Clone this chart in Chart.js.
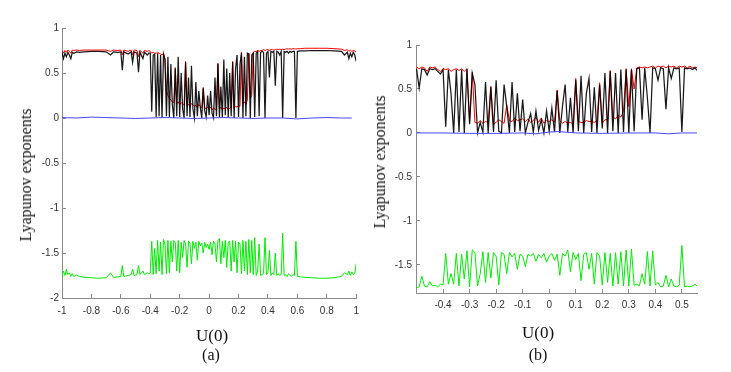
<!DOCTYPE html>
<html>
<head>
<meta charset="utf-8">
<script src="https://cdn.jsdelivr.net/npm/chart.js@4.4.0/dist/chart.umd.min.js"></script>
<style>
  body { margin: 0; background: #fff; width: 731px; height: 372px; position: relative; overflow: hidden; }
  canvas { position: absolute; top: 0; }
  .cap { position: absolute; font-family: 'Liberation Serif', 'Times New Roman', serif; color: #111;
         white-space: nowrap; line-height: 1; transform: translate(-50%, -50%); }
  .ylab { transform: translate(-50%, -50%) rotate(-90deg); }
</style>
</head>
<body>
<canvas id="chartA" width="370" height="372" style="left:0"></canvas>
<canvas id="chartB" width="361" height="372" style="left:370px"></canvas>

<div class="cap ylab" style="left:26px;top:175px;font-size:16px">Lyapunov exponents</div>
<div class="cap" style="left:212px;top:335px;font-size:17px">U(0)</div>
<div class="cap" style="left:211px;top:355px;font-size:16px">(a)</div>

<div class="cap ylab" style="left:380px;top:162px;font-size:16px">Lyapunov exponents</div>
<div class="cap" style="left:538px;top:332px;font-size:17px">U(0)</div>
<div class="cap" style="left:538px;top:355px;font-size:16px">(b)</div>

<script>
// ---------- panel (a) ----------
const uA = [
  -1, -0.99, -0.98, -0.97, -0.96, -0.95, -0.94, -0.93, -0.92, -0.9,
  -0.88, -0.85, -0.8, -0.75, -0.7, -0.67, -0.65, -0.62, -0.6, -0.59,
  -0.58, -0.55, -0.53, -0.52, -0.51, -0.49, -0.48, -0.47, -0.45, -0.44,
  -0.42, -0.41,
  -0.40, -0.39, -0.38, -0.37, -0.36, -0.35, -0.34, -0.33, -0.32, -0.31,
  -0.30, -0.29, -0.28, -0.27, -0.26, -0.25, -0.24, -0.23, -0.22, -0.21,
  -0.20, -0.19, -0.18, -0.17, -0.16, -0.15, -0.14, -0.13, -0.12, -0.11,
  -0.10, -0.09, -0.08, -0.07, -0.06, -0.05, -0.04, -0.03, -0.02, -0.01,
  0.00, 0.01, 0.02, 0.03, 0.04, 0.05, 0.06, 0.07, 0.08, 0.09,
  0.10, 0.11, 0.12, 0.13, 0.14, 0.15, 0.16, 0.17, 0.18, 0.19,
  0.20, 0.21, 0.22, 0.23, 0.24, 0.25, 0.26, 0.27, 0.28, 0.29,
  0.30, 0.31, 0.32, 0.33, 0.34, 0.35, 0.36, 0.37, 0.38, 0.39,
  0.40, 0.41, 0.42, 0.43, 0.44, 0.45, 0.46, 0.47, 0.48, 0.49,
  0.50, 0.51, 0.52, 0.53, 0.54, 0.55, 0.56, 0.57, 0.58, 0.59,
  0.60,
  0.62, 0.65, 0.7, 0.75, 0.8, 0.85, 0.9, 0.92, 0.94, 0.95,
  0.96, 0.97, 0.98, 0.99, 1
];
const blackA = [
  0.73, 0.66, 0.72, 0.68, 0.73, 0.70, 0.66, 0.73, 0.72, 0.735,
  0.73, 0.735, 0.74, 0.74, 0.735, 0.70, 0.735, 0.73, 0.735, 0.53,
  0.735, 0.71, 0.735, 0.62, 0.735, 0.72, 0.51, 0.73, 0.66, 0.73,
  0.70, 0.72,
  0.72, 0.07, 0.70, 0.71, 0.01, 0.72, 0.02, 0.70, 0.00, 0.71,
  0.65, 0.02, 0.68, 0.01, 0.60, 0.15, 0.00, 0.55, 0.02, 0.68,
  0.01, 0.50, 0.10, 0.00, 0.62, 0.02, 0.45, 0.01, 0.58, 0.10,
  0.00, 0.40, 0.02, 0.30, 0.12, 0.00, 0.33, 0.08, 0.01, 0.25,
  0.03, 0.30, 0.05, 0.00, 0.45, 0.02, 0.60, 0.01, 0.35, 0.00,
  0.65, 0.03, 0.55, 0.00, 0.50, 0.02, 0.62, 0.00, 0.55, 0.70,
  0.01, 0.60, 0.72, 0.00, 0.68, 0.02, 0.72, 0.71, 0.00, 0.70,
  0.72, 0.01, 0.72, 0.74, 0.02, 0.73, 0.74, 0.73, 0.00, 0.72,
  0.74, 0.45, 0.74, 0.73, 0.74, 0.36, 0.74, 0.73, 0.70, 0.74,
  0.00, 0.74, 0.73, 0.74, 0.72, 0.74, 0.73, 0.74, 0.74, 0.00,
  0.74,
  0.745, 0.745, 0.75, 0.75, 0.75, 0.745, 0.74, 0.70, 0.73, 0.66,
  0.72, 0.68, 0.73, 0.70, 0.63
];
const redA = [
  0.75, 0.72, 0.75, 0.73, 0.755, 0.74, 0.72, 0.755, 0.75, 0.755,
  0.75, 0.755, 0.755, 0.755, 0.755, 0.74, 0.755, 0.75, 0.755, 0.70,
  0.755, 0.74, 0.755, 0.70, 0.755, 0.75, 0.68, 0.75, 0.72, 0.75,
  0.74, 0.75,
  0.74, 0.72, 0.73, 0.72, 0.72, 0.73, 0.72, 0.71, 0.70, 0.72,
  0.66, 0.30, 0.25, 0.22, 0.20, 0.18, 0.17, 0.56, 0.16, 0.18,
  0.15, 0.17, 0.16, 0.14, 0.63, 0.14, 0.15, 0.13, 0.16, 0.15,
  0.13, 0.14, 0.12, 0.15, 0.13, 0.11, 0.34, 0.12, 0.10, 0.12,
  0.10, 0.12, 0.09, 0.11, 0.10, 0.09, 0.61, 0.10, 0.12, 0.09,
  0.11, 0.10, 0.12, 0.09, 0.11, 0.12, 0.63, 0.11, 0.13, 0.12,
  0.14, 0.13, 0.73, 0.16, 0.18, 0.15, 0.20, 0.72, 0.22, 0.25,
  0.73, 0.74, 0.74, 0.75, 0.74, 0.75, 0.75, 0.76, 0.75, 0.76,
  0.76, 0.75, 0.76, 0.76, 0.755, 0.76, 0.765, 0.76, 0.765, 0.76,
  0.765, 0.76, 0.765, 0.77, 0.765, 0.77, 0.765, 0.77, 0.77, 0.765,
  0.77,
  0.77, 0.775, 0.775, 0.775, 0.775, 0.77, 0.765, 0.75, 0.76, 0.74,
  0.755, 0.74, 0.75, 0.745, 0.73
];
const greenA = [
  -1.76, -1.70, -1.75, -1.68, -1.74, -1.72, -1.76, -1.73, -1.76, -1.745,
  -1.76, -1.77, -1.775, -1.78, -1.775, -1.72, -1.77, -1.765, -1.76, -1.64,
  -1.76, -1.75, -1.74, -1.68, -1.75, -1.74, -1.64, -1.74, -1.70, -1.74,
  -1.72, -1.73,
  -1.72, -1.37, -1.74, -1.45, -1.73, -1.36, -1.70, -1.38, -1.74, -1.35,
  -1.40, -1.73, -1.36, -1.72, -1.37, -1.60, -1.36, -1.38, -1.70, -1.36,
  -1.72, -1.38, -1.55, -1.36, -1.40, -1.66, -1.37, -1.39, -1.62, -1.37,
  -1.45, -1.38, -1.58, -1.37, -1.42, -1.39, -1.50, -1.38, -1.44, -1.40,
  -1.46, -1.38, -1.52, -1.37, -1.40, -1.60, -1.36, -1.34, -1.62, -1.37,
  -1.55, -1.36, -1.66, -1.38, -1.37, -1.70, -1.36, -1.60, -1.37, -1.72,
  -1.38, -1.40, -1.73, -1.36, -1.70, -1.37, -1.74, -1.35, -1.72, -1.36,
  -1.74, -1.33, -1.75, -1.70, -1.40, -1.75, -1.74, -1.73, -1.33, -1.74,
  -1.72, -1.47, -1.75, -1.72, -1.74, -1.50, -1.75, -1.73, -1.75, -1.74,
  -1.28, -1.75, -1.74, -1.76, -1.73, -1.75, -1.76, -1.74, -1.75, -1.37,
  -1.76,
  -1.765, -1.77, -1.775, -1.78, -1.78, -1.775, -1.76, -1.72, -1.74, -1.70,
  -1.75, -1.71, -1.74, -1.73, -1.62
];
const uBlueA = [-1, -0.9, -0.8, -0.7, -0.6, -0.5, -0.4, -0.3, -0.2, -0.1, 0,
                0.1, 0.2, 0.3, 0.4, 0.5, 0.6, 0.7, 0.8, 0.9, 0.97];
const blueA = [0.005, 0.0, 0.01, 0.005, 0.0, -0.005, 0.0, 0.005, 0.0, -0.005, 0.0,
               0.005, 0.0, -0.005, 0.0, 0.0, -0.01, 0.0, 0.005, 0.0, 0.0];
const xTicksA = [-1, -0.8, -0.6, -0.4, -0.2, 0, 0.2, 0.4, 0.6, 0.8, 1];
const yTicksA = [1, 0.5, 0, -0.5, -1, -1.5, -2];

// ---------- panel (b) ----------
const uB = [
  -0.50, -0.49, -0.48, -0.47, -0.46, -0.45, -0.44, -0.43, -0.42, -0.41,
  -0.40, -0.39, -0.38, -0.37, -0.36, -0.35, -0.34, -0.33, -0.32, -0.31,
  -0.30, -0.29, -0.28, -0.27, -0.26, -0.25, -0.24, -0.23, -0.22, -0.21,
  -0.20, -0.19, -0.18, -0.17, -0.16, -0.15, -0.14, -0.13, -0.12, -0.11,
  -0.10, -0.09, -0.08, -0.07, -0.06, -0.05, -0.04, -0.03, -0.02, -0.01,
  0.00, 0.01, 0.02, 0.03, 0.04, 0.05, 0.06, 0.07, 0.08, 0.09,
  0.10, 0.11, 0.12, 0.13, 0.14, 0.15, 0.16, 0.17, 0.18, 0.19,
  0.20, 0.21, 0.22, 0.23, 0.24, 0.25, 0.26, 0.27, 0.28, 0.29,
  0.30, 0.31, 0.32, 0.33, 0.34, 0.35, 0.36, 0.37, 0.38, 0.39,
  0.40, 0.41, 0.42, 0.43, 0.44, 0.45, 0.46, 0.47, 0.48, 0.49,
  0.50, 0.51, 0.52, 0.53, 0.54, 0.55,
  0.557
];
const blackB = [
  0.73, 0.51, 0.73, 0.72, 0.66, 0.73, 0.72, 0.73, 0.70, 0.67,
  0.72, 0.07, 0.72, 0.45, 0.00, 0.72, 0.01, 0.72, 0.00, 0.73,
  0.10, 0.68, 0.55, 0.00, 0.12, 0.01, 0.58, 0.00, 0.52, 0.01,
  0.60, 0.02, 0.00, 0.55, 0.30, 0.00, 0.58, 0.01, 0.45, 0.02,
  0.38, 0.00, 0.12, 0.22, 0.01, 0.25, 0.03, 0.15, 0.00, 0.25,
  0.02, 0.28, 0.01, 0.48, 0.00, 0.30, 0.55, 0.01, 0.40, 0.00,
  0.60, 0.02, 0.65, 0.00, 0.45, 0.62, 0.01, 0.52, 0.00, 0.55,
  0.05, 0.68, 0.00, 0.70, 0.02, 0.68, 0.00, 0.72, 0.01, 0.72,
  0.00, 0.72, 0.02, 0.73, 0.74, 0.15, 0.74, 0.40, 0.00, 0.74,
  0.73, 0.60, 0.74, 0.73, 0.27, 0.74, 0.62, 0.74, 0.73, 0.74,
  0.01, 0.74, 0.73, 0.74, 0.72, 0.74,
  0.71
];
const redB = [
  0.75, 0.73, 0.75, 0.74, 0.70, 0.75, 0.74, 0.75, 0.72, 0.70,
  0.73, 0.72, 0.73, 0.70, 0.72, 0.73, 0.71, 0.73, 0.70, 0.73,
  0.12, 0.69, 0.12, 0.11, 0.14, 0.11, 0.13, 0.12, 0.53, 0.10,
  0.12, 0.15, 0.13, 0.11, 0.32, 0.14, 0.13, 0.17, 0.14, 0.15,
  0.16, 0.13, 0.16, 0.12, 0.14, 0.18, 0.12, 0.17, 0.11, 0.14,
  0.13, 0.15, 0.12, 0.49, 0.14, 0.11, 0.13, 0.11, 0.12, 0.10,
  0.62, 0.13, 0.12, 0.12, 0.14, 0.13, 0.13, 0.12, 0.14, 0.57,
  0.11, 0.15, 0.15, 0.71, 0.18, 0.16, 0.20, 0.18, 0.25, 0.73,
  0.30, 0.73, 0.50, 0.74, 0.75, 0.74, 0.75, 0.74, 0.75, 0.76,
  0.74, 0.76, 0.75, 0.76, 0.74, 0.76, 0.75, 0.76, 0.74, 0.76,
  0.75, 0.76, 0.74, 0.76, 0.74, 0.75,
  0.74
];
const greenB = [
  -1.76, -1.75, -1.63, -1.74, -1.75, -1.69, -1.74, -1.73, -1.75, -1.72,
  -1.73, -1.37, -1.72, -1.60, -1.72, -1.37, -1.74, -1.38, -1.66, -1.34,
  -1.75, -1.33, -1.36, -1.74, -1.60, -1.35, -1.70, -1.36, -1.65, -1.36,
  -1.40, -1.73, -1.36, -1.38, -1.60, -1.36, -1.41, -1.37, -1.55, -1.38,
  -1.40, -1.52, -1.38, -1.40, -1.37, -1.46, -1.38, -1.42, -1.37, -1.47,
  -1.40, -1.37, -1.45, -1.38, -1.62, -1.37, -1.40, -1.33, -1.58, -1.36,
  -1.44, -1.37, -1.68, -1.38, -1.36, -1.55, -1.37, -1.72, -1.36, -1.40,
  -1.73, -1.36, -1.70, -1.37, -1.74, -1.36, -1.72, -1.35, -1.74, -1.33,
  -1.74, -1.32, -1.73, -1.72, -1.74, -1.60, -1.72, -1.35, -1.74, -1.34,
  -1.73, -1.70, -1.75, -1.74, -1.62, -1.75, -1.66, -1.74, -1.75, -1.73,
  -1.28, -1.75, -1.74, -1.75, -1.74, -1.72,
  -1.74
];
const uBlueB = [-0.5, -0.4, -0.3, -0.2, -0.1, -0.05, 0, 0.03, 0.06, 0.1, 0.2, 0.3, 0.4, 0.45, 0.5, 0.557];
const blueB = [0, 0, -0.005, -0.005, 0, -0.01, 0.01, 0.015, 0.01, 0, -0.005, 0, 0, -0.01, 0, 0];
const xTicksB = [-0.4, -0.3, -0.2, -0.1, 0, 0.1, 0.2, 0.3, 0.4, 0.5];
const yTicksB = [1, 0.5, 0, -0.5, -1, -1.5];

function toXY(xs, ys) {
  return xs.map((x, i) => ({ x: x, y: ys[i] }));
}

function axis(min, max, ticks, fitSize, isX, pad) {
  return {
    type: 'linear',
    min: min,
    max: max,
    afterBuildTicks: s => { s.ticks = ticks.map(v => ({ value: v })); },
    afterFit: s => { if (isX) s.height = fitSize; else s.width = fitSize; },
    grid: { drawOnChartArea: false, drawTicks: true, tickLength: -4, color: '#8a8a8a' },
    border: { color: '#8a8a8a' },
    ticks: {
      padding: pad,
      maxRotation: 0,
      autoSkip: false,
      color: '#333',
      font: { family: "'Liberation Sans', Arial, sans-serif", size: 10 },
      callback: v => String(v)
    }
  };
}

function drawPanel(id, p) {
  new Chart(document.getElementById(id), {
    type: 'line',
    data: {
      datasets: [
        { data: toXY(p.uBlue, p.blue), borderColor: 'rgb(70,70,255)' },
        { data: toXY(p.u, p.black), borderColor: 'rgba(0,0,0,0.9)', borderWidth: 1.25 },
        { data: toXY(p.u, p.red), borderColor: 'rgb(255,0,0)' },
        { data: toXY(p.u, p.green), borderColor: 'rgb(0,235,0)' }
      ]
    },
    options: {
      responsive: false,
      animation: false,
      events: [],
      elements: {
        point: { radius: 0 },
        line: { borderWidth: 1, tension: 0 }
      },
      layout: { padding: p.pad },
      plugins: { legend: { display: false }, tooltip: { enabled: false } },
      scales: {
        x: axis(p.xMin, p.xMax, p.xTicks, p.xH, true, p.xPad),
        y: axis(p.yMin, p.yMax, p.yTicks, p.yW, false, p.yPad)
      }
    }
  });
}

drawPanel('chartA', {
  u: uA, black: blackA, red: redA, green: greenA, uBlue: uBlueA, blue: blueA,
  xMin: -1, xMax: 1, yMin: -2, yMax: 1, xTicks: xTicksA, yTicks: yTicksA,
  pad: { top: 28, right: 13, left: 0, bottom: 0 }, xH: 74, yW: 62, xPad: 11, yPad: 7
});

drawPanel('chartB', {
  u: uB, black: blackB, red: redB, green: greenB, uBlue: uBlueB, blue: blueB,
  xMin: -0.502, xMax: 0.557, yMin: -1.82, yMax: 1, xTicks: xTicksB, yTicks: yTicksB,
  pad: { top: 45, right: 34, left: 0, bottom: 0 }, xH: 79, yW: 46, xPad: 10.5, yPad: 8
});
</script>
</body>
</html>
